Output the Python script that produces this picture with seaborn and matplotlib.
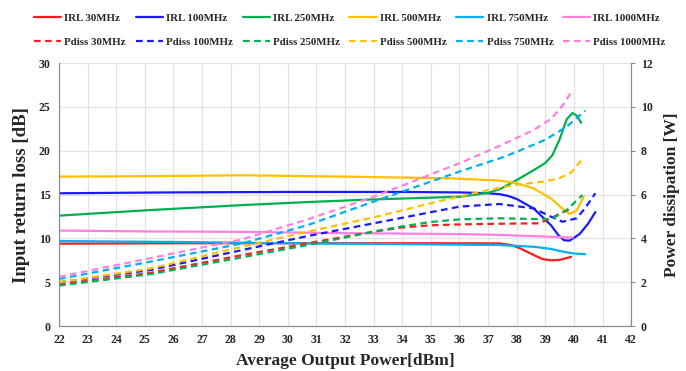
import matplotlib
matplotlib.use('Agg')
from matplotlib import pyplot as plt
import seaborn as sns

# input return loss [dB] vs output power [dBm]
irl_30_p = [22, 26, 30, 34, 36, 37.4, 37.8, 38.1, 38.6, 38.9, 39.2, 39.5, 39.9]
irl_30 = [9.4, 9.45, 9.45, 9.45, 9.45, 9.43, 9.25, 8.9, 8.1, 7.65, 7.5, 7.55, 7.9]
irl_100_p = [22, 26, 30, 34, 36, 37, 37.4, 37.7, 38, 38.6, 39.2, 39.45, 39.65, 39.85, 40.2, 40.5, 40.75]
irl_100 = [15.15, 15.25, 15.3, 15.3, 15.25, 15.15, 15.05, 14.85, 14.5, 13.4, 11.5, 10.4, 9.8, 9.75, 10.5, 11.7, 13.0]
irl_250_p = [22, 25, 28.4, 30.7, 33, 36, 37, 37.4, 38, 38.6, 39.0, 39.25, 39.5, 39.75, 39.95, 40.1, 40.25]
irl_250 = [12.6, 13.2, 13.8, 14.15, 14.45, 14.75, 15.2, 15.6, 16.65, 17.8, 18.6, 19.5, 21.3, 23.6, 24.3, 24.0, 23.2]
irl_500_p = [22, 25, 28.4, 32, 35.7, 37.4, 38, 38.6, 39.2, 39.6, 39.85, 40.1, 40.35]
irl_500 = [17.05, 17.1, 17.2, 17.05, 16.85, 16.6, 16.3, 15.7, 14.55, 13.4, 12.8, 13.2, 14.8]
irl_750_p = [22, 26, 30, 34, 37.4, 38.6, 39.2, 39.6, 40.0, 40.4]
irl_750 = [9.7, 9.6, 9.45, 9.35, 9.25, 9.05, 8.8, 8.5, 8.28, 8.2]
irl_1000_p = [22, 25, 28.4, 32, 36, 37.4, 39.95]
irl_1000 = [10.9, 10.8, 10.75, 10.6, 10.5, 10.4, 10.1]

# power dissipation [W] vs output power [dBm]
pd_30_p = [22, 25.2, 28.4, 30.7, 33, 34, 35, 36, 37.4, 38.8, 39.3, 39.9]
pd_30 = [1.9, 2.43, 3.24, 3.78, 4.31, 4.5, 4.6, 4.64, 4.67, 4.69, 4.99, 5.37]
pd_100_p = [22, 25.2, 28.4, 30.7, 33, 36, 37.4, 38.6, 39.2, 39.6, 40.1, 40.4, 40.75]
pd_100 = [2.0, 2.56, 3.47, 4.11, 4.69, 5.45, 5.57, 5.37, 4.99, 4.76, 4.92, 5.4, 6.06]
pd_250_p = [22, 25.2, 28.4, 30.7, 33, 34, 35, 36, 37.4, 39.2, 39.75, 40.3]
pd_250 = [1.85, 2.37, 3.14, 3.7, 4.31, 4.55, 4.75, 4.87, 4.92, 4.87, 5.3, 5.98]
pd_500_p = [22, 25.2, 28.4, 30.7, 33, 35.7, 37, 38, 39, 39.5, 39.9, 40.35]
pd_500 = [2.0, 2.63, 3.62, 4.31, 4.96, 5.83, 6.2, 6.45, 6.6, 6.75, 7.0, 7.7]
pd_750_p = [22, 25.2, 28.4, 30.7, 33, 36, 37.4, 38, 39, 39.75, 40.4]
pd_750 = [2.15, 2.94, 3.77, 4.61, 5.68, 7.05, 7.65, 7.95, 8.5, 9.1, 9.83]
pd_1000_p = [22, 25.2, 28.4, 30.7, 33, 36, 37.4, 38.6, 39.2, 39.6, 39.96]
pd_1000 = [2.25, 3.1, 3.96, 4.87, 5.9, 7.43, 8.22, 8.95, 9.45, 10.05, 10.78]

freqs = ['30MHz', '100MHz', '250MHz', '500MHz', '750MHz', '1000MHz']
colors = ['#ff1c1c', '#1a1aff', '#00b050', '#ffc000', '#00b0f0', '#ff80dd']
irl_p = [irl_30_p, irl_100_p, irl_250_p, irl_500_p, irl_750_p, irl_1000_p]
irl = [irl_30, irl_100, irl_250, irl_500, irl_750, irl_1000]
pd_p = [pd_30_p, pd_100_p, pd_250_p, pd_500_p, pd_750_p, pd_1000_p]
pdiss = [pd_30, pd_100, pd_250, pd_500, pd_750, pd_1000]

sns.set_style('white')
plt.rcParams['font.family'] = ['Liberation Serif', 'DejaVu Serif']
plt.rcParams['font.weight'] = 'bold'

fig = plt.figure(figsize=(6.86, 3.71), dpi=100)
ax = fig.add_axes([0.086, 0.121, 0.834, 0.709])
ax2 = ax.twinx()

handles = []
for i, f in enumerate(freqs):
    sns.lineplot(x=irl_p[i], y=irl[i], ax=ax, color=colors[i], lw=1.6,
                 label='IRL ' + f, legend=False)
    sns.lineplot(x=pd_p[i], y=pdiss[i], ax=ax2, color=colors[i], lw=1.6,
                 linestyle=(0, (3, 2)), label='Pdiss ' + f, legend=False)
    handles.append(ax.lines[-1])
    handles.append(ax2.lines[-1])

ax.set_xlim(22, 42)
ax.set_ylim(0, 30)
ax2.set_ylim(0, 12)
ax.set_xticks(range(22, 43))
ax.set_yticks(range(0, 31, 5))
ax2.set_yticks(range(0, 13, 2))
ax.grid(True, color='#e3e3e3', lw=0.9)
ax2.grid(False)

for a in (ax, ax2):
    for s in a.spines.values():
        s.set_color('#8c8c8c')
    a.spines['top'].set_visible(False)
ax.tick_params(axis='both', length=0, labelsize=8.5, pad=6)
ax2.tick_params(axis='y', length=3, color='#8c8c8c', labelsize=8.5, pad=4, right=True)

ax.set_xlabel('Average Output Power[dBm]', fontsize=12.5, fontweight='bold', labelpad=5)
ax.set_ylabel('Input return loss [dB]', fontsize=13.5, fontweight='bold', labelpad=6)
ax2.set_ylabel('Power dissipation [W]', fontsize=12.5, fontweight='bold', labelpad=8)

fig.legend(handles=handles, labels=[h.get_label() for h in handles], ncol=6,
           loc='upper center', bbox_to_anchor=(0.51, 0.99), frameon=False,
           prop={'family': 'Liberation Serif', 'weight': 'bold', 'size': 7.8},
           handlelength=2.5, handletextpad=0.3, columnspacing=0.9, labelspacing=1.35)

fig.savefig('out.png', dpi=100)
